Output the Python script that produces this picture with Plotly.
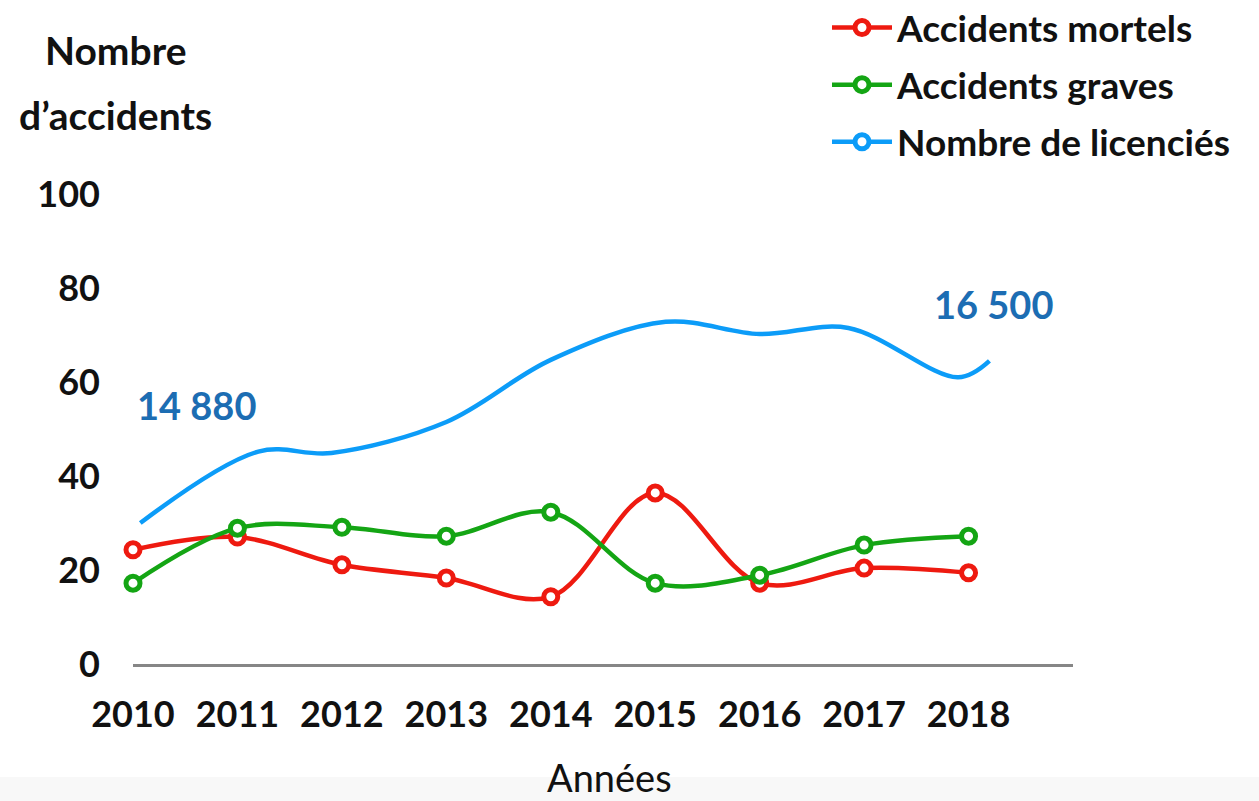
import plotly.graph_objects as go

# ---- data ----
years = [2010, 2011, 2012, 2013, 2014, 2015, 2016, 2017, 2018]
accidents_mortels = [24.3, 27.0, 21.1, 18.3, 14.3, 36.4, 17.2, 20.4, 19.4]
accidents_graves = [17.2, 28.9, 29.1, 27.2, 32.3, 17.2, 18.9, 25.3, 27.2]
licencies_x = [2010.07, 2011.2, 2011.9, 2013.0, 2014.0, 2015.1, 2016.0, 2016.85, 2017.9, 2018.2]
licencies_y = [30.0, 45.2, 44.9, 51.5, 64.7, 72.8, 70.2, 71.5, 61.0, 64.5]
y_ticks = [0, 20, 40, 60, 80, 100]
x_tick_labels = [str(y) for y in years]
licencies_first = "14 880"
licencies_last = "16 500"
series_names = ["Accidents mortels", "Accidents graves", "Nombre de licenciés"]

RED = "#ee1a10"
GREEN = "#14a514"
BLUE = "#0c9cf8"
LABEL_BLUE = "#1c6db3"
FONT = "Lato, 'Open Sans', sans-serif"

W, H = 1259, 801
L, R, T, B = 133, 186, 194, 137
PW, PH = W - L - R, H - T - B


def px_x(px):
    return (px - L) / PW


def px_y(py):
    return (H - B - py) / PH


fig = go.Figure()

marker_common = dict(symbol="circle", size=14, color="white")

fig.add_trace(go.Scatter(
    x=years, y=accidents_mortels, name=series_names[0], mode="lines+markers",
    line=dict(color=RED, width=4.5, shape="spline", smoothing=1.0),
    marker=dict(**marker_common, line=dict(color=RED, width=5)),
    cliponaxis=False, legendgroup="a"))

fig.add_trace(go.Scatter(
    x=years, y=accidents_graves, name=series_names[1], mode="lines+markers",
    line=dict(color=GREEN, width=4.5, shape="spline", smoothing=1.0),
    marker=dict(**marker_common, line=dict(color=GREEN, width=5)),
    cliponaxis=False, legendgroup="b"))

fig.add_trace(go.Scatter(
    x=licencies_x, y=licencies_y, name=series_names[2], mode="lines",
    line=dict(color=BLUE, width=4.5, shape="spline", smoothing=1.0),
    cliponaxis=False, legendgroup="c", showlegend=False))

# legend entry for the blue series (shown with a marker, as in the original)
fig.add_trace(go.Scatter(
    x=[None], y=[None], name=series_names[2], mode="lines+markers",
    line=dict(color=BLUE, width=4.5),
    marker=dict(**marker_common, line=dict(color=BLUE, width=5)),
    legendgroup="c"))

tick_font = dict(family=FONT, size=36, color="#111111", weight="bold")

fig.update_layout(
    width=W, height=H, autosize=False,
    margin=dict(l=L, r=R, t=T, b=B, pad=0, autoexpand=False),
    paper_bgcolor="white", plot_bgcolor="white",
    showlegend=True,
    legend=dict(
        x=px_x(827), y=px_y(-3), xanchor="left", yanchor="top",
        font=dict(family=FONT, size=37, color="#111111", weight="bold"),
        bgcolor="rgba(0,0,0,0)", tracegroupgap=6, itemwidth=60,
    ),
    xaxis=dict(
        range=[2010, 2019], tickvals=years, ticktext=x_tick_labels,
        showgrid=False, zeroline=False, showline=True,
        linecolor="#868686", linewidth=2.5, ticks="",
        tickfont=tick_font, ticklabelstandoff=17,
    ),
    yaxis=dict(
        range=[0, 100], tickvals=y_ticks,
        showgrid=False, zeroline=False, showline=False, ticks="",
        tickfont=tick_font, ticklabelstandoff=32,
    ),
    shapes=[dict(type="rect", xref="paper", yref="paper",
                 x0=px_x(0), x1=px_x(W), y0=px_y(H), y1=px_y(777),
                 fillcolor="#f8f8f8", line=dict(width=0), layer="below")],
)

annotations = [
    dict(text="Nombre", x=px_x(115), y=px_y(50)),
    dict(text="d’accidents", x=px_x(115), y=px_y(115)),
]
for a in annotations:
    fig.add_annotation(xref="paper", yref="paper", xanchor="center", yanchor="middle",
                       showarrow=False, font=dict(family=FONT, size=39, color="#111111", weight="bold"),
                       **a)

fig.add_annotation(xref="paper", yref="paper", x=px_x(609), y=px_y(777),
                   xanchor="center", yanchor="middle", showarrow=False, text="Années",
                   font=dict(family=FONT, size=38, color="#111111"))

fig.add_annotation(xref="x", yref="y", x=2010.61, y=55.1, text=licencies_first,
                   xanchor="center", yanchor="middle", showarrow=False,
                   font=dict(family=FONT, size=38, color=LABEL_BLUE, weight="bold"))
fig.add_annotation(xref="x", yref="y", x=2018.24, y=76.6, text=licencies_last,
                   xanchor="center", yanchor="middle", showarrow=False,
                   font=dict(family=FONT, size=38, color=LABEL_BLUE, weight="bold"))

fig.write_html("out.html", config={"displayModeBar": False},
               post_script="document.body.style.margin='0px';")
